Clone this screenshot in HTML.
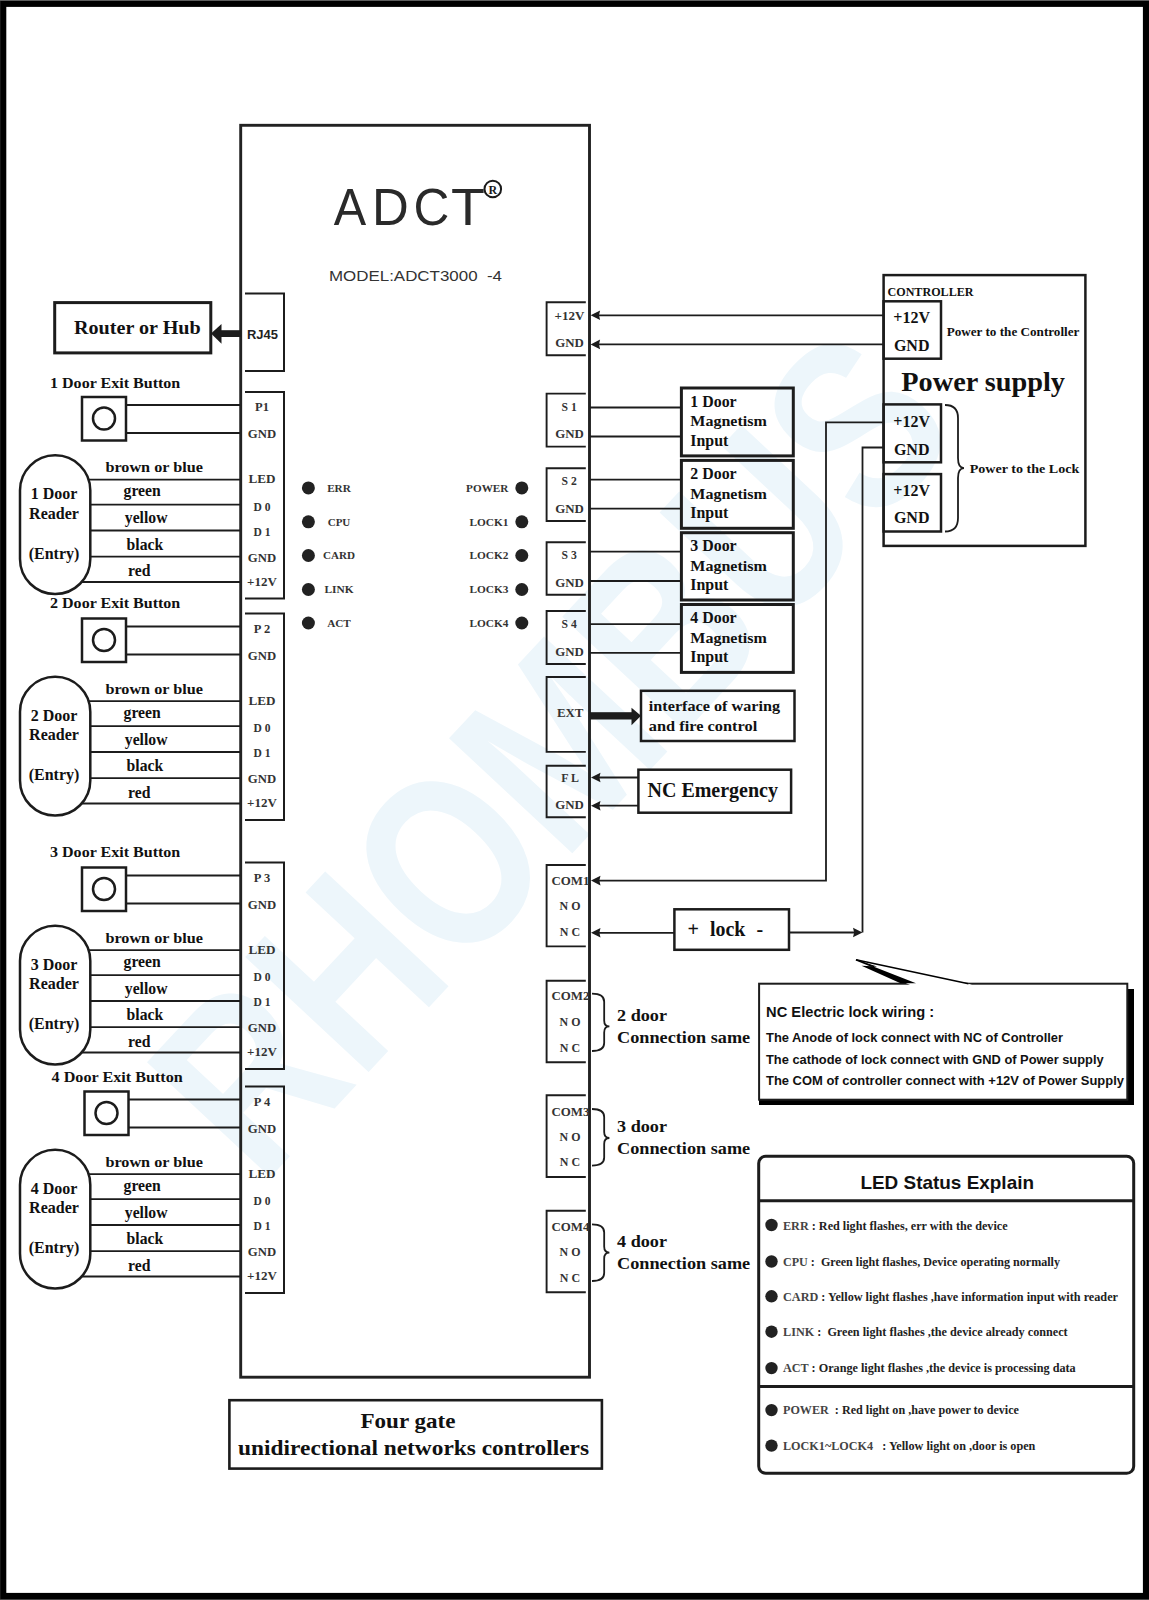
<!DOCTYPE html>
<html><head><meta charset="utf-8"><style>
html,body{margin:0;padding:0;background:#fff;}
svg{display:block;}
</style></head><body>
<svg width="1149" height="1600" viewBox="0 0 1149 1600">
<rect width="1149" height="1600" fill="#fff"/>
<g transform="translate(551,753) rotate(-47)"><text x="-515" y="84" font-family="Liberation Sans" font-weight="bold" font-size="245" fill="#edf6fb" textLength="1030" lengthAdjust="spacingAndGlyphs">RHOMBUS</text></g>
<rect x="3.2" y="3.8" width="1142.8" height="1592.2" rx="0" fill="none" stroke="#000" stroke-width="6.2"/>
<rect x="0" y="0" width="1149" height="0.9" fill="#555"/>
<rect x="0" y="1599" width="1149" height="1" fill="#444"/>
<rect x="240.7" y="125.3" width="348.8" height="1251.9" rx="0" fill="none" stroke="#222" stroke-width="2.9"/>
<text transform="translate(333.80,225.4) scale(0.9482,1)" font-family="Liberation Sans" font-size="51.3" fill="#2a2a2a">A</text>
<text transform="translate(372.02,225.4) scale(0.9928,1)" font-family="Liberation Sans" font-size="51.3" fill="#2a2a2a">D</text>
<text transform="translate(413.47,225.4) scale(0.9685,1)" font-family="Liberation Sans" font-size="51.3" fill="#2a2a2a">C</text>
<text transform="translate(450.98,225.4) scale(1.0833,1)" font-family="Liberation Sans" font-size="51.3" fill="#2a2a2a">T</text>
<circle cx="492.8" cy="189" r="8.3" fill="none" stroke="#1a1a1a" stroke-width="2"/>
<text x="492.8" y="193.6" font-family="Liberation Serif" font-size="12" font-weight="bold" fill="#1a1a1a" text-anchor="middle">R</text>
<text x="329" y="280.5" font-family="Liberation Sans" font-size="14" font-weight="normal" fill="#333" textLength="173" lengthAdjust="spacingAndGlyphs">MODEL:ADCT3000  -4</text>
<polyline points="245,293.6 284,293.6 284,371 245,371" fill="none" stroke="#1c1c1c" stroke-width="2" stroke-linejoin="miter"/>
<text x="247" y="339.3" font-family="Liberation Sans" font-size="13" font-weight="bold" fill="#222" textLength="31" lengthAdjust="spacingAndGlyphs">RJ45</text>
<rect x="54.7" y="302.6" width="156.10000000000002" height="50.299999999999955" rx="0" fill="none" stroke="#1c1c1c" stroke-width="3"/>
<text x="74" y="333.9" font-family="Liberation Serif" font-size="19" font-weight="bold" fill="#111" textLength="126.7" lengthAdjust="spacingAndGlyphs">Router or Hub</text>
<rect x="219" y="330.2" width="22" height="6.8" fill="#1c1c1c"/>
<polygon points="211,333.6 221.5,324 221.5,343.8" fill="#1c1c1c"/>
<text x="50" y="387.5" font-family="Liberation Serif" font-size="15" font-weight="bold" fill="#111" textLength="130.3" lengthAdjust="spacingAndGlyphs">1 Door Exit Button</text>
<rect x="82" y="397" width="44" height="43.5" rx="0" fill="none" stroke="#1c1c1c" stroke-width="2.5"/>
<circle cx="104" cy="418.5" r="11" fill="none" stroke="#1c1c1c" stroke-width="2.5"/>
<line x1="126" y1="405" x2="240" y2="405" stroke="#1c1c1c" stroke-width="1.8"/>
<line x1="126" y1="433" x2="240" y2="433" stroke="#1c1c1c" stroke-width="1.8"/>
<polyline points="245,392 284,392 284,598.5 245,598.5" fill="none" stroke="#1c1c1c" stroke-width="2" stroke-linejoin="miter"/>
<text x="262" y="411.3" font-family="Liberation Serif" font-size="12.5" font-weight="bold" fill="#333" text-anchor="middle">P1</text>
<text x="262" y="438" font-family="Liberation Serif" font-size="12.8" font-weight="bold" fill="#333" text-anchor="middle" textLength="28.3" lengthAdjust="spacingAndGlyphs">GND</text>
<line x1="55" y1="479.7" x2="240" y2="479.7" stroke="#1c1c1c" stroke-width="1.8"/>
<line x1="55" y1="504.7" x2="240" y2="504.7" stroke="#1c1c1c" stroke-width="1.8"/>
<line x1="55" y1="530.5" x2="240" y2="530.5" stroke="#1c1c1c" stroke-width="1.8"/>
<line x1="55" y1="556.6" x2="240" y2="556.6" stroke="#1c1c1c" stroke-width="1.8"/>
<line x1="55" y1="582" x2="240" y2="582" stroke="#1c1c1c" stroke-width="1.8"/>
<rect x="20" y="455.3" width="70.3" height="138.7" rx="35" fill="#fff" stroke="#1c1c1c" stroke-width="2.5"/>
<text x="54" y="499.3" font-family="Liberation Serif" font-size="16" font-weight="bold" fill="#111" text-anchor="middle">1 Door</text>
<text x="54" y="518.7" font-family="Liberation Serif" font-size="16" font-weight="bold" fill="#111" text-anchor="middle">Reader</text>
<text x="54" y="558.6" font-family="Liberation Serif" font-size="16" font-weight="bold" fill="#111" text-anchor="middle">(Entry)</text>
<text x="105.4" y="472.3" font-family="Liberation Serif" font-size="15" font-weight="bold" fill="#111" textLength="97.6" lengthAdjust="spacingAndGlyphs">brown or blue</text>
<text x="123.6" y="496" font-family="Liberation Serif" font-size="15.7" font-weight="bold" fill="#111">green</text>
<text x="124.8" y="523" font-family="Liberation Serif" font-size="15.7" font-weight="bold" fill="#111">yellow</text>
<text x="126.6" y="549.8" font-family="Liberation Serif" font-size="15.7" font-weight="bold" fill="#111">black</text>
<text x="128" y="576.3" font-family="Liberation Serif" font-size="15.7" font-weight="bold" fill="#111">red</text>
<text x="262" y="483.4" font-family="Liberation Serif" font-size="12.8" font-weight="bold" fill="#333" text-anchor="middle" textLength="27" lengthAdjust="spacingAndGlyphs">LED</text>
<text x="262" y="510.7" font-family="Liberation Serif" font-size="12.8" font-weight="bold" fill="#333" text-anchor="middle" textLength="17" lengthAdjust="spacingAndGlyphs">D 0</text>
<text x="262" y="535.9" font-family="Liberation Serif" font-size="12.8" font-weight="bold" fill="#333" text-anchor="middle" textLength="17" lengthAdjust="spacingAndGlyphs">D 1</text>
<text x="262" y="561.7" font-family="Liberation Serif" font-size="12.8" font-weight="bold" fill="#333" text-anchor="middle" textLength="28.3" lengthAdjust="spacingAndGlyphs">GND</text>
<text x="262" y="585.9" font-family="Liberation Serif" font-size="12.8" font-weight="bold" fill="#333" text-anchor="middle" textLength="29.8" lengthAdjust="spacingAndGlyphs">+12V</text>
<text x="50" y="607.8" font-family="Liberation Serif" font-size="15" font-weight="bold" fill="#111" textLength="130.3" lengthAdjust="spacingAndGlyphs">2 Door Exit Button</text>
<rect x="82" y="618.5" width="44" height="43.5" rx="0" fill="none" stroke="#1c1c1c" stroke-width="2.5"/>
<circle cx="104" cy="640.0" r="11" fill="none" stroke="#1c1c1c" stroke-width="2.5"/>
<line x1="126" y1="626.5" x2="240" y2="626.5" stroke="#1c1c1c" stroke-width="1.8"/>
<line x1="126" y1="654.5" x2="240" y2="654.5" stroke="#1c1c1c" stroke-width="1.8"/>
<polyline points="245,613.5 284,613.5 284,820.0 245,820.0" fill="none" stroke="#1c1c1c" stroke-width="2" stroke-linejoin="miter"/>
<text x="262" y="632.8" font-family="Liberation Serif" font-size="12.5" font-weight="bold" fill="#333" text-anchor="middle">P 2</text>
<text x="262" y="659.5" font-family="Liberation Serif" font-size="12.8" font-weight="bold" fill="#333" text-anchor="middle" textLength="28.3" lengthAdjust="spacingAndGlyphs">GND</text>
<line x1="55" y1="701.2" x2="240" y2="701.2" stroke="#1c1c1c" stroke-width="1.8"/>
<line x1="55" y1="726.2" x2="240" y2="726.2" stroke="#1c1c1c" stroke-width="1.8"/>
<line x1="55" y1="752.0" x2="240" y2="752.0" stroke="#1c1c1c" stroke-width="1.8"/>
<line x1="55" y1="778.1" x2="240" y2="778.1" stroke="#1c1c1c" stroke-width="1.8"/>
<line x1="55" y1="803.5" x2="240" y2="803.5" stroke="#1c1c1c" stroke-width="1.8"/>
<rect x="20" y="676.8" width="70.3" height="138.70000000000005" rx="35" fill="#fff" stroke="#1c1c1c" stroke-width="2.5"/>
<text x="54" y="720.8" font-family="Liberation Serif" font-size="16" font-weight="bold" fill="#111" text-anchor="middle">2 Door</text>
<text x="54" y="740.2" font-family="Liberation Serif" font-size="16" font-weight="bold" fill="#111" text-anchor="middle">Reader</text>
<text x="54" y="780.1" font-family="Liberation Serif" font-size="16" font-weight="bold" fill="#111" text-anchor="middle">(Entry)</text>
<text x="105.4" y="693.8" font-family="Liberation Serif" font-size="15" font-weight="bold" fill="#111" textLength="97.6" lengthAdjust="spacingAndGlyphs">brown or blue</text>
<text x="123.6" y="717.5" font-family="Liberation Serif" font-size="15.7" font-weight="bold" fill="#111">green</text>
<text x="124.8" y="744.5" font-family="Liberation Serif" font-size="15.7" font-weight="bold" fill="#111">yellow</text>
<text x="126.6" y="771.3" font-family="Liberation Serif" font-size="15.7" font-weight="bold" fill="#111">black</text>
<text x="128" y="797.8" font-family="Liberation Serif" font-size="15.7" font-weight="bold" fill="#111">red</text>
<text x="262" y="704.9" font-family="Liberation Serif" font-size="12.8" font-weight="bold" fill="#333" text-anchor="middle" textLength="27" lengthAdjust="spacingAndGlyphs">LED</text>
<text x="262" y="732.2" font-family="Liberation Serif" font-size="12.8" font-weight="bold" fill="#333" text-anchor="middle" textLength="17" lengthAdjust="spacingAndGlyphs">D 0</text>
<text x="262" y="757.4" font-family="Liberation Serif" font-size="12.8" font-weight="bold" fill="#333" text-anchor="middle" textLength="17" lengthAdjust="spacingAndGlyphs">D 1</text>
<text x="262" y="783.2" font-family="Liberation Serif" font-size="12.8" font-weight="bold" fill="#333" text-anchor="middle" textLength="28.3" lengthAdjust="spacingAndGlyphs">GND</text>
<text x="262" y="807.4" font-family="Liberation Serif" font-size="12.8" font-weight="bold" fill="#333" text-anchor="middle" textLength="29.8" lengthAdjust="spacingAndGlyphs">+12V</text>
<text x="50" y="857.3" font-family="Liberation Serif" font-size="15" font-weight="bold" fill="#111" textLength="130.3" lengthAdjust="spacingAndGlyphs">3 Door Exit Button</text>
<rect x="82" y="867.5" width="44" height="43.5" rx="0" fill="none" stroke="#1c1c1c" stroke-width="2.5"/>
<circle cx="104" cy="889.0" r="11" fill="none" stroke="#1c1c1c" stroke-width="2.5"/>
<line x1="126" y1="875.5" x2="240" y2="875.5" stroke="#1c1c1c" stroke-width="1.8"/>
<line x1="126" y1="903.5" x2="240" y2="903.5" stroke="#1c1c1c" stroke-width="1.8"/>
<polyline points="245,862.5 284,862.5 284,1069.0 245,1069.0" fill="none" stroke="#1c1c1c" stroke-width="2" stroke-linejoin="miter"/>
<text x="262" y="881.8" font-family="Liberation Serif" font-size="12.5" font-weight="bold" fill="#333" text-anchor="middle">P 3</text>
<text x="262" y="908.5" font-family="Liberation Serif" font-size="12.8" font-weight="bold" fill="#333" text-anchor="middle" textLength="28.3" lengthAdjust="spacingAndGlyphs">GND</text>
<line x1="55" y1="950.2" x2="240" y2="950.2" stroke="#1c1c1c" stroke-width="1.8"/>
<line x1="55" y1="975.2" x2="240" y2="975.2" stroke="#1c1c1c" stroke-width="1.8"/>
<line x1="55" y1="1001.0" x2="240" y2="1001.0" stroke="#1c1c1c" stroke-width="1.8"/>
<line x1="55" y1="1027.1" x2="240" y2="1027.1" stroke="#1c1c1c" stroke-width="1.8"/>
<line x1="55" y1="1052.5" x2="240" y2="1052.5" stroke="#1c1c1c" stroke-width="1.8"/>
<rect x="20" y="925.8" width="70.3" height="138.70000000000005" rx="35" fill="#fff" stroke="#1c1c1c" stroke-width="2.5"/>
<text x="54" y="969.8" font-family="Liberation Serif" font-size="16" font-weight="bold" fill="#111" text-anchor="middle">3 Door</text>
<text x="54" y="989.2" font-family="Liberation Serif" font-size="16" font-weight="bold" fill="#111" text-anchor="middle">Reader</text>
<text x="54" y="1029.1" font-family="Liberation Serif" font-size="16" font-weight="bold" fill="#111" text-anchor="middle">(Entry)</text>
<text x="105.4" y="942.8" font-family="Liberation Serif" font-size="15" font-weight="bold" fill="#111" textLength="97.6" lengthAdjust="spacingAndGlyphs">brown or blue</text>
<text x="123.6" y="966.5" font-family="Liberation Serif" font-size="15.7" font-weight="bold" fill="#111">green</text>
<text x="124.8" y="993.5" font-family="Liberation Serif" font-size="15.7" font-weight="bold" fill="#111">yellow</text>
<text x="126.6" y="1020.3" font-family="Liberation Serif" font-size="15.7" font-weight="bold" fill="#111">black</text>
<text x="128" y="1046.8" font-family="Liberation Serif" font-size="15.7" font-weight="bold" fill="#111">red</text>
<text x="262" y="953.9" font-family="Liberation Serif" font-size="12.8" font-weight="bold" fill="#333" text-anchor="middle" textLength="27" lengthAdjust="spacingAndGlyphs">LED</text>
<text x="262" y="981.2" font-family="Liberation Serif" font-size="12.8" font-weight="bold" fill="#333" text-anchor="middle" textLength="17" lengthAdjust="spacingAndGlyphs">D 0</text>
<text x="262" y="1006.4" font-family="Liberation Serif" font-size="12.8" font-weight="bold" fill="#333" text-anchor="middle" textLength="17" lengthAdjust="spacingAndGlyphs">D 1</text>
<text x="262" y="1032.2" font-family="Liberation Serif" font-size="12.8" font-weight="bold" fill="#333" text-anchor="middle" textLength="28.3" lengthAdjust="spacingAndGlyphs">GND</text>
<text x="262" y="1056.4" font-family="Liberation Serif" font-size="12.8" font-weight="bold" fill="#333" text-anchor="middle" textLength="29.8" lengthAdjust="spacingAndGlyphs">+12V</text>
<text x="51.6" y="1081.5" font-family="Liberation Serif" font-size="15" font-weight="bold" fill="#111" textLength="131.2" lengthAdjust="spacingAndGlyphs">4 Door Exit Button</text>
<rect x="84.5" y="1091.5" width="44.0" height="43.5" rx="0" fill="none" stroke="#1c1c1c" stroke-width="2.5"/>
<circle cx="106.5" cy="1113.0" r="11" fill="none" stroke="#1c1c1c" stroke-width="2.5"/>
<line x1="128.5" y1="1099.5" x2="240" y2="1099.5" stroke="#1c1c1c" stroke-width="1.8"/>
<line x1="128.5" y1="1127.5" x2="240" y2="1127.5" stroke="#1c1c1c" stroke-width="1.8"/>
<polyline points="245,1086.5 284,1086.5 284,1293.0 245,1293.0" fill="none" stroke="#1c1c1c" stroke-width="2" stroke-linejoin="miter"/>
<text x="262" y="1105.8" font-family="Liberation Serif" font-size="12.5" font-weight="bold" fill="#333" text-anchor="middle">P 4</text>
<text x="262" y="1132.5" font-family="Liberation Serif" font-size="12.8" font-weight="bold" fill="#333" text-anchor="middle" textLength="28.3" lengthAdjust="spacingAndGlyphs">GND</text>
<line x1="55" y1="1174.2" x2="240" y2="1174.2" stroke="#1c1c1c" stroke-width="1.8"/>
<line x1="55" y1="1199.2" x2="240" y2="1199.2" stroke="#1c1c1c" stroke-width="1.8"/>
<line x1="55" y1="1225.0" x2="240" y2="1225.0" stroke="#1c1c1c" stroke-width="1.8"/>
<line x1="55" y1="1251.1" x2="240" y2="1251.1" stroke="#1c1c1c" stroke-width="1.8"/>
<line x1="55" y1="1276.5" x2="240" y2="1276.5" stroke="#1c1c1c" stroke-width="1.8"/>
<rect x="20" y="1149.8" width="70.3" height="138.70000000000005" rx="35" fill="#fff" stroke="#1c1c1c" stroke-width="2.5"/>
<text x="54" y="1193.8" font-family="Liberation Serif" font-size="16" font-weight="bold" fill="#111" text-anchor="middle">4 Door</text>
<text x="54" y="1213.2" font-family="Liberation Serif" font-size="16" font-weight="bold" fill="#111" text-anchor="middle">Reader</text>
<text x="54" y="1253.1" font-family="Liberation Serif" font-size="16" font-weight="bold" fill="#111" text-anchor="middle">(Entry)</text>
<text x="105.4" y="1166.8" font-family="Liberation Serif" font-size="15" font-weight="bold" fill="#111" textLength="97.6" lengthAdjust="spacingAndGlyphs">brown or blue</text>
<text x="123.6" y="1190.5" font-family="Liberation Serif" font-size="15.7" font-weight="bold" fill="#111">green</text>
<text x="124.8" y="1217.5" font-family="Liberation Serif" font-size="15.7" font-weight="bold" fill="#111">yellow</text>
<text x="126.6" y="1244.3" font-family="Liberation Serif" font-size="15.7" font-weight="bold" fill="#111">black</text>
<text x="128" y="1270.8" font-family="Liberation Serif" font-size="15.7" font-weight="bold" fill="#111">red</text>
<text x="262" y="1177.9" font-family="Liberation Serif" font-size="12.8" font-weight="bold" fill="#333" text-anchor="middle" textLength="27" lengthAdjust="spacingAndGlyphs">LED</text>
<text x="262" y="1205.2" font-family="Liberation Serif" font-size="12.8" font-weight="bold" fill="#333" text-anchor="middle" textLength="17" lengthAdjust="spacingAndGlyphs">D 0</text>
<text x="262" y="1230.4" font-family="Liberation Serif" font-size="12.8" font-weight="bold" fill="#333" text-anchor="middle" textLength="17" lengthAdjust="spacingAndGlyphs">D 1</text>
<text x="262" y="1256.2" font-family="Liberation Serif" font-size="12.8" font-weight="bold" fill="#333" text-anchor="middle" textLength="28.3" lengthAdjust="spacingAndGlyphs">GND</text>
<text x="262" y="1280.4" font-family="Liberation Serif" font-size="12.8" font-weight="bold" fill="#333" text-anchor="middle" textLength="29.8" lengthAdjust="spacingAndGlyphs">+12V</text>
<circle cx="308.4" cy="487.9" r="6.5" fill="#222"/>
<text x="339" y="491.79999999999995" font-family="Liberation Serif" font-size="10.6" font-weight="bold" fill="#333" text-anchor="middle" textLength="23.7" lengthAdjust="spacingAndGlyphs">ERR</text>
<circle cx="308.4" cy="521.8" r="6.5" fill="#222"/>
<text x="339" y="525.6999999999999" font-family="Liberation Serif" font-size="10.6" font-weight="bold" fill="#333" text-anchor="middle" textLength="22.6" lengthAdjust="spacingAndGlyphs">CPU</text>
<circle cx="308.4" cy="555.5" r="6.5" fill="#222"/>
<text x="339" y="559.4" font-family="Liberation Serif" font-size="10.6" font-weight="bold" fill="#333" text-anchor="middle" textLength="32" lengthAdjust="spacingAndGlyphs">CARD</text>
<circle cx="308.4" cy="589.5" r="6.5" fill="#222"/>
<text x="339" y="593.4" font-family="Liberation Serif" font-size="10.6" font-weight="bold" fill="#333" text-anchor="middle" textLength="29.2" lengthAdjust="spacingAndGlyphs">LINK</text>
<circle cx="308.4" cy="623" r="6.5" fill="#222"/>
<text x="339" y="626.9" font-family="Liberation Serif" font-size="10.6" font-weight="bold" fill="#333" text-anchor="middle" textLength="23.7" lengthAdjust="spacingAndGlyphs">ACT</text>
<circle cx="521.8" cy="487.9" r="6.5" fill="#222"/>
<text x="466.09999999999997" y="491.79999999999995" font-family="Liberation Serif" font-size="10.6" font-weight="bold" fill="#333" textLength="42.3" lengthAdjust="spacingAndGlyphs">POWER</text>
<circle cx="521.8" cy="521.8" r="6.5" fill="#222"/>
<text x="469.4" y="525.6999999999999" font-family="Liberation Serif" font-size="10.6" font-weight="bold" fill="#333" textLength="39" lengthAdjust="spacingAndGlyphs">LOCK1</text>
<circle cx="521.8" cy="555.5" r="6.5" fill="#222"/>
<text x="469.4" y="559.4" font-family="Liberation Serif" font-size="10.6" font-weight="bold" fill="#333" textLength="39" lengthAdjust="spacingAndGlyphs">LOCK2</text>
<circle cx="521.8" cy="589.5" r="6.5" fill="#222"/>
<text x="469.4" y="593.4" font-family="Liberation Serif" font-size="10.6" font-weight="bold" fill="#333" textLength="39" lengthAdjust="spacingAndGlyphs">LOCK3</text>
<circle cx="521.8" cy="623" r="6.5" fill="#222"/>
<text x="469.4" y="626.9" font-family="Liberation Serif" font-size="10.6" font-weight="bold" fill="#333" textLength="39" lengthAdjust="spacingAndGlyphs">LOCK4</text>
<polyline points="585.8,302.2 546.6,302.2 546.6,355.2 585.8,355.2" fill="none" stroke="#1c1c1c" stroke-width="1.9" stroke-linejoin="miter"/>
<text x="569.4" y="319.9" font-family="Liberation Serif" font-size="12.8" font-weight="bold" fill="#333" text-anchor="middle" textLength="29.8" lengthAdjust="spacingAndGlyphs">+12V</text>
<text x="569.5" y="346.9" font-family="Liberation Serif" font-size="12.8" font-weight="bold" fill="#333" text-anchor="middle" textLength="28.6" lengthAdjust="spacingAndGlyphs">GND</text>
<polyline points="585.8,393.6 546.6,393.6 546.6,446.6 585.8,446.6" fill="none" stroke="#1c1c1c" stroke-width="1.9" stroke-linejoin="miter"/>
<text x="569.1" y="410.7" font-family="Liberation Serif" font-size="12.8" font-weight="bold" fill="#333" text-anchor="middle" textLength="15.2" lengthAdjust="spacingAndGlyphs">S 1</text>
<text x="569.5" y="437.7" font-family="Liberation Serif" font-size="12.8" font-weight="bold" fill="#333" text-anchor="middle" textLength="28.6" lengthAdjust="spacingAndGlyphs">GND</text>
<line x1="590" y1="407.5" x2="681.4" y2="407.5" stroke="#1c1c1c" stroke-width="1.8"/>
<line x1="590" y1="436.5" x2="681.4" y2="436.5" stroke="#1c1c1c" stroke-width="1.8"/>
<polyline points="585.8,468.2 546.6,468.2 546.6,521 585.8,521" fill="none" stroke="#1c1c1c" stroke-width="1.9" stroke-linejoin="miter"/>
<text x="569.1" y="484.9" font-family="Liberation Serif" font-size="12.8" font-weight="bold" fill="#333" text-anchor="middle" textLength="15.2" lengthAdjust="spacingAndGlyphs">S 2</text>
<text x="569.5" y="513.1" font-family="Liberation Serif" font-size="12.8" font-weight="bold" fill="#333" text-anchor="middle" textLength="28.6" lengthAdjust="spacingAndGlyphs">GND</text>
<line x1="590" y1="479.7" x2="681.4" y2="479.7" stroke="#1c1c1c" stroke-width="1.8"/>
<line x1="590" y1="508.7" x2="681.4" y2="508.7" stroke="#1c1c1c" stroke-width="1.8"/>
<polyline points="585.8,542.3 546.6,542.3 546.6,594.8 585.8,594.8" fill="none" stroke="#1c1c1c" stroke-width="1.9" stroke-linejoin="miter"/>
<text x="569.1" y="558.8" font-family="Liberation Serif" font-size="12.8" font-weight="bold" fill="#333" text-anchor="middle" textLength="15.2" lengthAdjust="spacingAndGlyphs">S 3</text>
<text x="569.5" y="587" font-family="Liberation Serif" font-size="12.8" font-weight="bold" fill="#333" text-anchor="middle" textLength="28.6" lengthAdjust="spacingAndGlyphs">GND</text>
<line x1="590" y1="551.7" x2="681.4" y2="551.7" stroke="#1c1c1c" stroke-width="1.8"/>
<line x1="590" y1="581" x2="681.4" y2="581" stroke="#1c1c1c" stroke-width="1.8"/>
<polyline points="585.8,611 546.6,611 546.6,664 585.8,664" fill="none" stroke="#1c1c1c" stroke-width="1.9" stroke-linejoin="miter"/>
<text x="569.1" y="628" font-family="Liberation Serif" font-size="12.8" font-weight="bold" fill="#333" text-anchor="middle" textLength="15.2" lengthAdjust="spacingAndGlyphs">S 4</text>
<text x="569.5" y="656.2" font-family="Liberation Serif" font-size="12.8" font-weight="bold" fill="#333" text-anchor="middle" textLength="28.6" lengthAdjust="spacingAndGlyphs">GND</text>
<line x1="590" y1="624.1" x2="681.4" y2="624.1" stroke="#1c1c1c" stroke-width="1.8"/>
<line x1="590" y1="652.8" x2="681.4" y2="652.8" stroke="#1c1c1c" stroke-width="1.8"/>
<polyline points="585.8,677 546.6,677 546.6,751.9 585.8,751.9" fill="none" stroke="#1c1c1c" stroke-width="1.9" stroke-linejoin="miter"/>
<text x="570.2" y="717.4" font-family="Liberation Serif" font-size="12.8" font-weight="bold" fill="#333" text-anchor="middle" textLength="26.6" lengthAdjust="spacingAndGlyphs">EXT</text>
<polyline points="585.8,765.7 546.6,765.7 546.6,817.2 585.8,817.2" fill="none" stroke="#1c1c1c" stroke-width="1.9" stroke-linejoin="miter"/>
<text x="570.2" y="781.9" font-family="Liberation Serif" font-size="12.8" font-weight="bold" fill="#333" text-anchor="middle" textLength="17.7" lengthAdjust="spacingAndGlyphs">F L</text>
<text x="569.5" y="809.3" font-family="Liberation Serif" font-size="12.8" font-weight="bold" fill="#333" text-anchor="middle" textLength="28.6" lengthAdjust="spacingAndGlyphs">GND</text>
<polyline points="585.8,865 546.6,865 546.6,946.4 585.8,946.4" fill="none" stroke="#1c1c1c" stroke-width="1.9" stroke-linejoin="miter"/>
<text x="551.4" y="885" font-family="Liberation Serif" font-size="12.5" font-weight="bold" fill="#333" textLength="38" lengthAdjust="spacingAndGlyphs">COM1</text>
<text x="570" y="910.1" font-family="Liberation Serif" font-size="12.8" font-weight="bold" fill="#333" text-anchor="middle" textLength="20.9" lengthAdjust="spacingAndGlyphs">N O</text>
<text x="570" y="936.2" font-family="Liberation Serif" font-size="12.8" font-weight="bold" fill="#333" text-anchor="middle" textLength="20.3" lengthAdjust="spacingAndGlyphs">N C</text>
<polyline points="585.8,980.7 546.6,980.7 546.6,1062.3 585.8,1062.3" fill="none" stroke="#1c1c1c" stroke-width="1.9" stroke-linejoin="miter"/>
<text x="551.4" y="1000.3" font-family="Liberation Serif" font-size="12.5" font-weight="bold" fill="#333" textLength="38" lengthAdjust="spacingAndGlyphs">COM2</text>
<text x="570" y="1025.9" font-family="Liberation Serif" font-size="12.8" font-weight="bold" fill="#333" text-anchor="middle" textLength="20.9" lengthAdjust="spacingAndGlyphs">N O</text>
<text x="570" y="1051.8" font-family="Liberation Serif" font-size="12.8" font-weight="bold" fill="#333" text-anchor="middle" textLength="20.3" lengthAdjust="spacingAndGlyphs">N C</text>
<polyline points="585.8,1095.3 546.6,1095.3 546.6,1177 585.8,1177" fill="none" stroke="#1c1c1c" stroke-width="1.9" stroke-linejoin="miter"/>
<text x="551.4" y="1115.6" font-family="Liberation Serif" font-size="12.5" font-weight="bold" fill="#333" textLength="38" lengthAdjust="spacingAndGlyphs">COM3</text>
<text x="570" y="1141" font-family="Liberation Serif" font-size="12.8" font-weight="bold" fill="#333" text-anchor="middle" textLength="20.9" lengthAdjust="spacingAndGlyphs">N O</text>
<text x="570" y="1166.3" font-family="Liberation Serif" font-size="12.8" font-weight="bold" fill="#333" text-anchor="middle" textLength="20.3" lengthAdjust="spacingAndGlyphs">N C</text>
<polyline points="585.8,1210.7 546.6,1210.7 546.6,1292.2 585.8,1292.2" fill="none" stroke="#1c1c1c" stroke-width="1.9" stroke-linejoin="miter"/>
<text x="551.4" y="1230.9" font-family="Liberation Serif" font-size="12.5" font-weight="bold" fill="#333" textLength="38" lengthAdjust="spacingAndGlyphs">COM4</text>
<text x="570" y="1255.9" font-family="Liberation Serif" font-size="12.8" font-weight="bold" fill="#333" text-anchor="middle" textLength="20.9" lengthAdjust="spacingAndGlyphs">N O</text>
<text x="570" y="1282" font-family="Liberation Serif" font-size="12.8" font-weight="bold" fill="#333" text-anchor="middle" textLength="20.3" lengthAdjust="spacingAndGlyphs">N C</text>
<line x1="598" y1="315.3" x2="883.6" y2="315.3" stroke="#1c1c1c" stroke-width="1.8"/>
<polygon points="590.6,315.3 600.1,310.5 598.96,315.3 600.1,320.1" fill="#1c1c1c"/>
<line x1="598" y1="344.4" x2="883.6" y2="344.4" stroke="#1c1c1c" stroke-width="1.8"/>
<polygon points="590.6,344.4 600.1,339.59999999999997 598.96,344.4 600.1,349.2" fill="#1c1c1c"/>
<rect x="681.4" y="388" width="111.89999999999998" height="67.89999999999998" rx="0" fill="none" stroke="#1c1c1c" stroke-width="3"/>
<text x="690.3" y="406.5" font-family="Liberation Serif" font-size="15.9" font-weight="bold" fill="#111">1 Door</text>
<text x="690.3" y="426.4" font-family="Liberation Serif" font-size="15" font-weight="bold" fill="#111" textLength="76.5" lengthAdjust="spacingAndGlyphs">Magnetism</text>
<text x="690.3" y="445.5" font-family="Liberation Serif" font-size="15.9" font-weight="bold" fill="#111">Input</text>
<rect x="681.4" y="460.4" width="111.89999999999998" height="67.89999999999998" rx="0" fill="none" stroke="#1c1c1c" stroke-width="3"/>
<text x="690.3" y="478.9" font-family="Liberation Serif" font-size="15.9" font-weight="bold" fill="#111">2 Door</text>
<text x="690.3" y="498.79999999999995" font-family="Liberation Serif" font-size="15" font-weight="bold" fill="#111" textLength="76.5" lengthAdjust="spacingAndGlyphs">Magnetism</text>
<text x="690.3" y="517.9" font-family="Liberation Serif" font-size="15.9" font-weight="bold" fill="#111">Input</text>
<rect x="681.4" y="532.7" width="111.89999999999998" height="67.29999999999995" rx="0" fill="none" stroke="#1c1c1c" stroke-width="3"/>
<text x="690.3" y="551.2" font-family="Liberation Serif" font-size="15.9" font-weight="bold" fill="#111">3 Door</text>
<text x="690.3" y="571.1" font-family="Liberation Serif" font-size="15" font-weight="bold" fill="#111" textLength="76.5" lengthAdjust="spacingAndGlyphs">Magnetism</text>
<text x="690.3" y="590.2" font-family="Liberation Serif" font-size="15.9" font-weight="bold" fill="#111">Input</text>
<rect x="681.4" y="604.5" width="111.89999999999998" height="67.89999999999998" rx="0" fill="none" stroke="#1c1c1c" stroke-width="3"/>
<text x="690.3" y="623.0" font-family="Liberation Serif" font-size="15.9" font-weight="bold" fill="#111">4 Door</text>
<text x="690.3" y="642.9" font-family="Liberation Serif" font-size="15" font-weight="bold" fill="#111" textLength="76.5" lengthAdjust="spacingAndGlyphs">Magnetism</text>
<text x="690.3" y="662.0" font-family="Liberation Serif" font-size="15.9" font-weight="bold" fill="#111">Input</text>
<rect x="590" y="712.2" width="43" height="7.3" fill="#1c1c1c"/>
<polygon points="641,715.8 631.5,707.8 631.5,725.3" fill="#1c1c1c"/>
<rect x="641" y="690.8" width="153.5" height="50.200000000000045" rx="0" fill="none" stroke="#1c1c1c" stroke-width="2.5"/>
<text x="648.8" y="710.9" font-family="Liberation Serif" font-size="15" font-weight="bold" fill="#111" textLength="131.3" lengthAdjust="spacingAndGlyphs">interface of waring</text>
<text x="648.8" y="730.5" font-family="Liberation Serif" font-size="15" font-weight="bold" fill="#111" textLength="108.4" lengthAdjust="spacingAndGlyphs">and fire control</text>
<line x1="598" y1="777.5" x2="638.4" y2="777.5" stroke="#1c1c1c" stroke-width="1.8"/>
<polygon points="591,777.5 600.5,772.7 599.36,777.5 600.5,782.3" fill="#1c1c1c"/>
<line x1="598" y1="805.7" x2="638.4" y2="805.7" stroke="#1c1c1c" stroke-width="1.8"/>
<polygon points="591,805.7 600.5,800.9000000000001 599.36,805.7 600.5,810.5" fill="#1c1c1c"/>
<rect x="638.4" y="769.7" width="152.70000000000005" height="43.0" rx="0" fill="none" stroke="#1c1c1c" stroke-width="2.5"/>
<text x="647.5" y="797.1" font-family="Liberation Serif" font-size="20" font-weight="bold" fill="#111" textLength="130.5" lengthAdjust="spacingAndGlyphs">NC Emergency</text>
<polyline points="598,880.6 826,880.6 826,422.4 883.6,422.4" fill="none" stroke="#1c1c1c" stroke-width="1.8" stroke-linejoin="miter"/>
<polygon points="591,880.6 600.5,875.8000000000001 599.36,880.6 600.5,885.4" fill="#1c1c1c"/>
<line x1="598" y1="932.8" x2="674.4" y2="932.8" stroke="#1c1c1c" stroke-width="1.8"/>
<polygon points="591,932.8 600.5,928.0 599.36,932.8 600.5,937.5999999999999" fill="#1c1c1c"/>
<rect x="674.4" y="909.3" width="114.60000000000002" height="40.5" rx="0" fill="none" stroke="#1c1c1c" stroke-width="2.5"/>
<text x="687.5" y="935.5" font-family="Liberation Serif" font-size="20" font-weight="bold" fill="#111">+</text>
<text x="710" y="935.5" font-family="Liberation Serif" font-size="20" font-weight="bold" fill="#111" textLength="35.4" lengthAdjust="spacingAndGlyphs">lock</text>
<text x="756.5" y="935.5" font-family="Liberation Serif" font-size="20" font-weight="bold" fill="#111">-</text>
<polyline points="789,932.5 855,932.5" fill="none" stroke="#1c1c1c" stroke-width="1.8" stroke-linejoin="miter"/>
<polygon points="862.5,932.5 853.0,927.7 854.14,932.5 853.0,937.3" fill="#1c1c1c"/>
<polyline points="862.5,932.5 862.5,447.5 883.6,447.5" fill="none" stroke="#1c1c1c" stroke-width="1.8" stroke-linejoin="miter"/>
<rect x="883.6" y="275.1" width="201.80000000000007" height="270.79999999999995" rx="0" fill="none" stroke="#1c1c1c" stroke-width="2.5"/>
<text x="887.5" y="295.8" font-family="Liberation Serif" font-size="12.5" font-weight="bold" fill="#111" textLength="86" lengthAdjust="spacingAndGlyphs">CONTROLLER</text>
<rect x="883.6" y="301.3" width="57.39999999999998" height="57.39999999999998" rx="0" fill="none" stroke="#1c1c1c" stroke-width="2.5"/>
<text x="911.7" y="322.7" font-family="Liberation Serif" font-size="16" font-weight="bold" fill="#111" text-anchor="middle">+12V</text>
<text x="911.7" y="350.9" font-family="Liberation Serif" font-size="16" font-weight="bold" fill="#111" text-anchor="middle">GND</text>
<rect x="883.6" y="404.4" width="57.39999999999998" height="57.900000000000034" rx="0" fill="none" stroke="#1c1c1c" stroke-width="2.5"/>
<text x="911.7" y="426.6" font-family="Liberation Serif" font-size="16" font-weight="bold" fill="#111" text-anchor="middle">+12V</text>
<text x="911.7" y="454.5" font-family="Liberation Serif" font-size="16" font-weight="bold" fill="#111" text-anchor="middle">GND</text>
<rect x="883.6" y="474.1" width="57.39999999999998" height="57.39999999999998" rx="0" fill="none" stroke="#1c1c1c" stroke-width="2.5"/>
<text x="911.7" y="495.5" font-family="Liberation Serif" font-size="16" font-weight="bold" fill="#111" text-anchor="middle">+12V</text>
<text x="911.7" y="523.2" font-family="Liberation Serif" font-size="16" font-weight="bold" fill="#111" text-anchor="middle">GND</text>
<text x="946.7" y="336.2" font-family="Liberation Serif" font-size="13" font-weight="bold" fill="#111" textLength="132.7" lengthAdjust="spacingAndGlyphs">Power to the Controller</text>
<text x="901.3" y="390.5" font-family="Liberation Serif" font-size="27" font-weight="bold" fill="#111" textLength="163.7" lengthAdjust="spacingAndGlyphs">Power supply</text>
<path d="M945,405 Q958,405 958,418 L958,458 Q958,468 964,468.1 Q958,468.2 958,478 L958,518 Q958,531.5 945,531.5" fill="none" stroke="#1c1c1c" stroke-width="1.8"/>
<text x="969.7" y="472.8" font-family="Liberation Serif" font-size="13" font-weight="bold" fill="#111" textLength="109.7" lengthAdjust="spacingAndGlyphs">Power to the Lock</text>
<rect x="759" y="989" width="375" height="116" fill="#000"/>
<rect x="759.1" y="983.7" width="368.19999999999993" height="116.0" rx="0" fill="#fff" stroke="#1c1c1c" stroke-width="2"/>
<polygon points="856,959.7 910,984.9 972,984.9 968.5,983.7" fill="#fff"/>
<polygon points="856,959.7 877,966.5 861.5,965.8 900.5,983.2 916,983.2" fill="#000"/>
<line x1="856" y1="959.7" x2="968.5" y2="983.7" stroke="#000" stroke-width="1.6"/>
<line x1="856" y1="959.7" x2="872" y2="966.3" stroke="#000" stroke-width="1.5"/>
<text x="766.1" y="1017" font-family="Liberation Sans" font-size="14.5" font-weight="bold" fill="#111" textLength="168" lengthAdjust="spacingAndGlyphs">NC Electric lock wiring :</text>
<text x="766" y="1041.6" font-family="Liberation Sans" font-size="12.6" font-weight="bold" fill="#111" textLength="297" lengthAdjust="spacingAndGlyphs">The Anode of lock connect with NC of Controller</text>
<text x="766" y="1063.5" font-family="Liberation Sans" font-size="12.6" font-weight="bold" fill="#111" textLength="337.6" lengthAdjust="spacingAndGlyphs">The cathode of lock connect with GND of Power supply</text>
<text x="766" y="1084.8" font-family="Liberation Sans" font-size="12.6" font-weight="bold" fill="#111" textLength="358" lengthAdjust="spacingAndGlyphs">The COM of controller connect with +12V of Power Supply</text>
<path d="M592,993.7 Q604.18,993.7 604.18,1001.7 L604.18,1020.4000000000001 Q604.18,1026.4 609.4,1026.4 Q604.18,1026.4 604.18,1032.4 L604.18,1043 Q604.18,1051 592,1051" fill="none" stroke="#1c1c1c" stroke-width="1.8"/>
<text x="617" y="1020.5" font-family="Liberation Serif" font-size="16.5" font-weight="bold" fill="#111" textLength="50" lengthAdjust="spacingAndGlyphs">2 door</text>
<text x="617" y="1042.7" font-family="Liberation Serif" font-size="16.5" font-weight="bold" fill="#111" textLength="133.2" lengthAdjust="spacingAndGlyphs">Connection same</text>
<path d="M592,1109 Q604.18,1109 604.18,1117 L604.18,1132 Q604.18,1138 609.4,1138 Q604.18,1138 604.18,1144 L604.18,1157.6 Q604.18,1165.6 592,1165.6" fill="none" stroke="#1c1c1c" stroke-width="1.8"/>
<text x="617" y="1132.3" font-family="Liberation Serif" font-size="16.5" font-weight="bold" fill="#111" textLength="50" lengthAdjust="spacingAndGlyphs">3 door</text>
<text x="617" y="1154.3" font-family="Liberation Serif" font-size="16.5" font-weight="bold" fill="#111" textLength="133.2" lengthAdjust="spacingAndGlyphs">Connection same</text>
<path d="M592,1224.4 Q604.18,1224.4 604.18,1232.4 L604.18,1246.6 Q604.18,1252.6 609.4,1252.6 Q604.18,1252.6 604.18,1258.6 L604.18,1273 Q604.18,1281 592,1281" fill="none" stroke="#1c1c1c" stroke-width="1.8"/>
<text x="617" y="1246.8" font-family="Liberation Serif" font-size="16.5" font-weight="bold" fill="#111" textLength="50" lengthAdjust="spacingAndGlyphs">4 door</text>
<text x="617" y="1269" font-family="Liberation Serif" font-size="16.5" font-weight="bold" fill="#111" textLength="133.2" lengthAdjust="spacingAndGlyphs">Connection same</text>
<rect x="758.7" y="1156.3" width="375.0" height="317.0" rx="7" fill="none" stroke="#1c1c1c" stroke-width="3"/>
<line x1="758.7" y1="1200.8" x2="1133.7" y2="1200.8" stroke="#1c1c1c" stroke-width="3"/>
<line x1="758.7" y1="1386.5" x2="1133.7" y2="1386.5" stroke="#1c1c1c" stroke-width="3"/>
<text x="860.4" y="1188.6" font-family="Liberation Sans" font-size="19" font-weight="bold" fill="#111" textLength="173.6" lengthAdjust="spacingAndGlyphs">LED Status Explain</text>
<circle cx="771.5" cy="1225" r="6.2" fill="#222"/>
<text x="783" y="1229.6" font-family="Liberation Serif" font-size="12" font-weight="bold" fill="#222" textLength="224.60000000000002" lengthAdjust="spacingAndGlyphs" xml:space="preserve"><tspan fill="#444">ERR</tspan> : Red light flashes, err with the device</text>
<circle cx="771.5" cy="1261.5" r="6.2" fill="#222"/>
<text x="783" y="1265.7" font-family="Liberation Serif" font-size="12" font-weight="bold" fill="#222" textLength="277" lengthAdjust="spacingAndGlyphs" xml:space="preserve"><tspan fill="#444">CPU</tspan> :  Green light flashes, Device operating normally</text>
<circle cx="771.5" cy="1296.3" r="6.2" fill="#222"/>
<text x="783" y="1300.8" font-family="Liberation Serif" font-size="12" font-weight="bold" fill="#222" textLength="335" lengthAdjust="spacingAndGlyphs" xml:space="preserve"><tspan fill="#444">CARD</tspan> : Yellow light flashes ,have information input with reader</text>
<circle cx="771.5" cy="1331.7" r="6.2" fill="#222"/>
<text x="783" y="1336.2" font-family="Liberation Serif" font-size="12" font-weight="bold" fill="#222" textLength="284.70000000000005" lengthAdjust="spacingAndGlyphs" xml:space="preserve"><tspan fill="#444">LINK</tspan> :  Green light flashes ,the device already connect</text>
<circle cx="771.5" cy="1368.1" r="6.2" fill="#222"/>
<text x="783" y="1372" font-family="Liberation Serif" font-size="12" font-weight="bold" fill="#222" textLength="292.70000000000005" lengthAdjust="spacingAndGlyphs" xml:space="preserve"><tspan fill="#444">ACT</tspan> : Orange light flashes ,the device is processing data</text>
<circle cx="771.5" cy="1410.1" r="6.2" fill="#222"/>
<text x="783" y="1414.3" font-family="Liberation Serif" font-size="12" font-weight="bold" fill="#222" textLength="236" lengthAdjust="spacingAndGlyphs" xml:space="preserve"><tspan fill="#444">POWER</tspan>  : Red light on ,have power to device</text>
<circle cx="771.5" cy="1445.6" r="6.2" fill="#222"/>
<text x="783" y="1450" font-family="Liberation Serif" font-size="12" font-weight="bold" fill="#222" textLength="252.4000000000001" lengthAdjust="spacingAndGlyphs" xml:space="preserve"><tspan fill="#444">LOCK1~LOCK4</tspan>   : Yellow light on ,door is open</text>
<rect x="229.4" y="1400.2" width="372.5" height="68.39999999999986" rx="0" fill="none" stroke="#1c1c1c" stroke-width="2.6"/>
<text x="408" y="1427.9" font-family="Liberation Serif" font-size="22" font-weight="bold" fill="#111" text-anchor="middle" textLength="95" lengthAdjust="spacingAndGlyphs">Four gate</text>
<text x="238.1" y="1454.7" font-family="Liberation Serif" font-size="21" font-weight="bold" fill="#111" textLength="350.9" lengthAdjust="spacingAndGlyphs">unidirectional networks controllers</text>
</svg></body></html>
